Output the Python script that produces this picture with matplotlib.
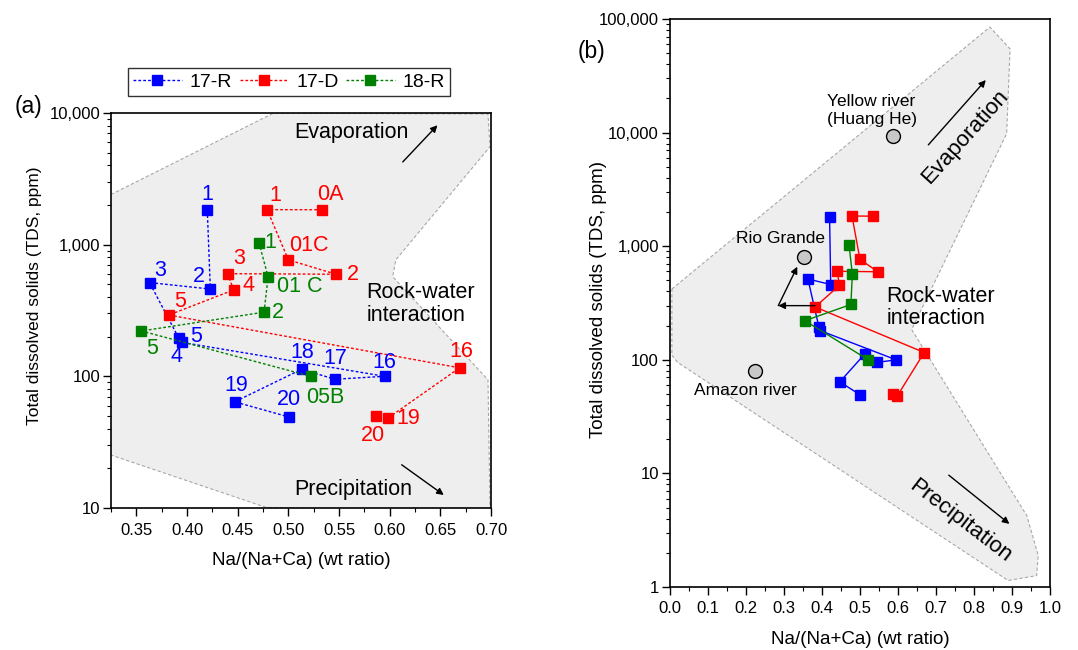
import numpy as np
import matplotlib.pyplot as plt
from matplotlib.ticker import FuncFormatter, MultipleLocator, LogLocator, NullFormatter

plt.rcParams['font.family'] = ['Liberation Sans', 'DejaVu Sans']

# 17-R samples
r17_x = [0.420, 0.423, 0.363, 0.392, 0.395, 0.595, 0.546, 0.513, 0.447, 0.501]
r17_y = [1820, 460, 515, 194, 181, 100, 95, 113, 64, 49]
r17_lab = ['1', '2', '3', '4', '5', '16', '17', '18', '19', '20']

# 17-D samples
d17_x = [0.533, 0.479, 0.500, 0.547, 0.440, 0.446, 0.382, 0.669, 0.598, 0.586]
d17_y = [1840, 1845, 766, 596, 602, 453, 292, 116, 48, 49.8]
d17_lab = ['0A', '1', '01C', '2', '3', '4', '5', '16', '19', '20']

# 18-R samples
r18_x = [0.471, 0.480, 0.476, 0.355, 0.522]
r18_y = [1035, 569, 307, 221, 100]
r18_lab = ['1', '01 C', '2', '5', '05B']

# world rivers (panel b)
river_names = ['Yellow river\n(Huang He)', 'Rio Grande', 'Amazon river']
river_x = [0.588, 0.353, 0.224]
river_y = [9330, 800, 80.5]

# Gibbs envelopes
left_poly_x = [0.320, 0.485, 0.697, 0.699, 0.606, 0.603, 0.697, 0.699, 0.478, 0.320]
left_poly_y = [2300, 9950, 9830, 5550, 766, 571, 94, 9.5, 10.1, 26]
right_poly_x = [0.005, 0.842, 0.895, 0.886, 0.636, 0.939, 0.969, 0.965, 0.890, 0.02, 0.005]
right_poly_y = [420, 85000, 54600, 9800, 185, 4.25, 1.9, 1.26, 1.14, 95, 110]

# arrows from sample 17-D 5 toward Rio Grande (panel b)
rg_arrow_x = [0.382, 0.285, 0.335]
rg_arrow_y = [300, 300, 660]

blue, red, green = '#0000ff', '#ff0000', '#008000'
fill_c = '#eeeeee'
edge_c = '#a8a8a8'

fig = plt.figure(figsize=(10.78, 6.5), dpi=100)

def fmt(v, p):
    return f'{v:,.0f}'

def style_axes(ax, major_len=5.5):
    ax.set_yscale('log')
    ax.yaxis.set_major_formatter(FuncFormatter(fmt))
    ax.yaxis.set_minor_locator(LogLocator(base=10, subs=np.arange(2, 10)))
    ax.yaxis.set_minor_formatter(NullFormatter())
    ax.tick_params(which='major', direction='out', length=major_len, width=1, labelsize=12)
    ax.tick_params(which='minor', direction='out', length=3, width=0.8)
    ax.tick_params(axis='x', pad=5)
    ax.tick_params(axis='y', pad=2)
    for s in ax.spines.values():
        s.set_linewidth(1.2)

ls_dot = (0, (2, 1.5))

# ---------------- panel (a)
ax1 = fig.add_axes([0.1030, 0.2185, 0.3525, 0.6077])
style_axes(ax1)
ax1.set_xlim(0.325, 0.70)
ax1.set_ylim(10, 10000)
ax1.xaxis.set_major_locator(MultipleLocator(0.05))
ax1.xaxis.set_minor_locator(MultipleLocator(0.025))
ax1.xaxis.set_major_formatter(FuncFormatter(lambda v, p: f'{v:.2f}'))

ax1.fill(left_poly_x, left_poly_y, facecolor=fill_c, edgecolor=edge_c, lw=0.8,
         ls=(0, (3, 2)), zorder=0)

ax1.plot(r17_x, r17_y, color=blue, ls=ls_dot, lw=1, marker='s', ms=6.8, label='17-R')
ax1.plot(d17_x, d17_y, color=red, ls=ls_dot, lw=1, marker='s', ms=6.8, label='17-D')
ax1.plot(r18_x, r18_y, color=green, ls=ls_dot, lw=1, marker='s', ms=6.8, label='18-R')

r17_off = [(0, 11.5), (-8, 9), (8, 9), (-2, -13), (10, 4.5), (0, 10), (0, 15), (0.5, 12), (1, 12), (0, 12.5)]
d17_off = [(6, 11), (6, 10), (15, 10), (12.5, 0), (8, 11), (10.5, 3), (8, 10), (1, 12), (14.5, 0), (-2, -14)]
r18_off = [(8.5, 0), (23, -7), (10, 0), (8, -12.5), (10.5, -15)]
for xs, ys, labs, offs, c in [(r17_x, r17_y, r17_lab, r17_off, blue),
                              (d17_x, d17_y, d17_lab, d17_off, red),
                              (r18_x, r18_y, r18_lab, r18_off, green)]:
    for x, y, t, o in zip(xs, ys, labs, offs):
        ax1.annotate(t, (x, y), xytext=o, textcoords='offset points',
                     ha='center', va='center', color=c, fontsize=15.5)

ax1.text(0.562, 7050, 'Evaporation', fontsize=15.5, ha='center', va='center')
ax1.annotate('', xy=(0.649, 8360), xytext=(0.611, 4100),
             arrowprops=dict(arrowstyle='-|>', color='black', lw=1, mutation_scale=10))
ax1.text(0.5643, 13.7, 'Precipitation', fontsize=15.5, ha='center', va='center')
ax1.annotate('', xy=(0.6556, 12.2), xytext=(0.6096, 21.9),
             arrowprops=dict(arrowstyle='-|>', color='black', lw=1, mutation_scale=10))
ax1.text(0.5768, 355, 'Rock-water\ninteraction', fontsize=15.5, ha='left', va='center',
         linespacing=1.1)

ax1.set_xlabel('Na/(Na+Ca) (wt ratio)', fontsize=13.5)
ax1.set_ylabel('Total dissolved solids (TDS, ppm)', fontsize=12.5)
ax1.xaxis.set_label_coords(0.5, -0.112)
ax1.yaxis.set_label_coords(-0.182, 0.537)

leg = fig.legend(handles=ax1.get_lines(), loc='center', bbox_to_anchor=(289 / 1078, 1 - 82 / 650),
                 ncol=3, fontsize=14, frameon=True, fancybox=False, edgecolor='black',
                 handlelength=2.5, handletextpad=0.4, columnspacing=0.4, borderpad=0.25,
                 borderaxespad=0)
leg.get_frame().set_linewidth(1)

fig.text(29 / 1078, 1 - 106.7 / 650, '(a)', fontsize=16.5, ha='center', va='center')

# ---------------- panel (b)
ax2 = fig.add_axes([0.6215, 0.0969, 0.3525, 0.8738])
style_axes(ax2, major_len=6)
ax2.set_xlim(0, 1.0)
ax2.set_ylim(1, 100000)
ax2.xaxis.set_major_locator(MultipleLocator(0.1))
ax2.xaxis.set_minor_locator(MultipleLocator(0.05))
ax2.xaxis.set_major_formatter(FuncFormatter(lambda v, p: f'{v:.1f}'))
ax2.tick_params(axis='x', pad=4)

ax2.fill(right_poly_x, right_poly_y, facecolor=fill_c, edgecolor=edge_c, lw=0.8,
         ls=(0, (3, 2)), zorder=0)

ax2.annotate('', xy=(rg_arrow_x[1], rg_arrow_y[1]), xytext=(rg_arrow_x[0], rg_arrow_y[0]),
             arrowprops=dict(arrowstyle='-|>', color='black', lw=1, mutation_scale=10,
                             shrinkA=0, shrinkB=0))
ax2.annotate('', xy=(rg_arrow_x[2], rg_arrow_y[2]), xytext=(rg_arrow_x[1], rg_arrow_y[1]),
             arrowprops=dict(arrowstyle='-|>', color='black', lw=1, mutation_scale=10,
                             shrinkA=0, shrinkB=0))

ax2.plot(r17_x, r17_y, color=blue, lw=1, marker='s', ms=6.8)
ax2.plot(d17_x, d17_y, color=red, lw=1, marker='s', ms=6.8)
ax2.plot(r18_x, r18_y, color=green, lw=1, marker='s', ms=6.8)

ax2.plot(river_x, river_y, ls='none', marker='o', ms=10, mfc='#c8c8c8', mec='black', mew=1)
ax2.text(0.412, 15700, river_names[0], fontsize=12.5, ha='left', va='center', linespacing=1.25)
ax2.text(0.408, 1160, river_names[1], fontsize=12.5, ha='right', va='center')
ax2.text(0.1995, 53.8, river_names[2], fontsize=12.5, ha='center', va='center')

ax2.text(0.570, 290, 'Rock-water\ninteraction', fontsize=15.5, ha='left', va='center',
         linespacing=1.1)
ax2.text(0.776, 9140, 'Evaporation', fontsize=16, ha='center', va='center', rotation=48)
ax2.annotate('', xy=(0.836, 30300), xytext=(0.675, 7480),
             arrowprops=dict(arrowstyle='-|>', color='black', lw=1, mutation_scale=10))
ax2.text(0.763, 3.84, 'Precipitation', fontsize=16, ha='center', va='center', rotation=-37.5)
ax2.annotate('', xy=(0.899, 3.47), xytext=(0.728, 10),
             arrowprops=dict(arrowstyle='-|>', color='black', lw=1, mutation_scale=10))

ax2.set_xlabel('Na/(Na+Ca) (wt ratio)', fontsize=13.5)
ax2.set_ylabel('Total dissolved solids (TDS, ppm)', fontsize=13.5)
ax2.xaxis.set_label_coords(0.5, -0.077)
ax2.yaxis.set_label_coords(-0.165, 0.507)

fig.text(591.7 / 1078, 1 - 51.7 / 650, '(b)', fontsize=16.5, ha='center', va='center')

fig.savefig('out.png', dpi=100)
